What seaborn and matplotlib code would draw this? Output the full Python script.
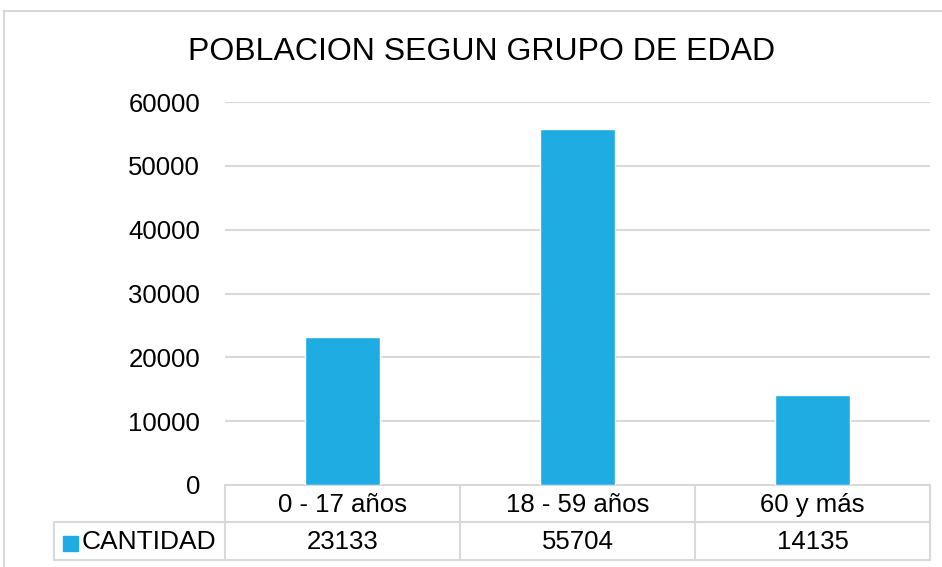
import matplotlib
matplotlib.use("Agg")
import matplotlib.pyplot as plt
import seaborn as sns
import pandas as pd
from matplotlib.lines import Line2D
from matplotlib.patches import Rectangle

categories = ["0 - 17 años", "18 - 59 años", "60 y más"]
values = [23133, 55704, 14135]
series_name = "CANTIDAD"
title = "POBLACION SEGUN GRUPO DE EDAD"
yticks = [0, 10000, 20000, 30000, 40000, 50000, 60000]

bar_color = "#1FACE3"
grid_color = "#D9D9D9"

sns.set_theme(style="white")
plt.rcParams["font.family"] = ["Liberation Sans", "DejaVu Sans"]

W, H = 942, 567
fig = plt.figure(figsize=(W / 100, H / 100), dpi=100)
ax_l, ax_r, ax_t, ax_b = 225, 930, 102, 485
ax = fig.add_axes([ax_l / W, 1 - ax_b / H, (ax_r - ax_l) / W, (ax_b - ax_t) / H])

df = pd.DataFrame({"cat": categories, "val": values})
sns.barplot(data=df, x="cat", y="val", color=bar_color, width=0.315,
            saturation=1, ax=ax, zorder=3)
ax.set_xlim(-0.5, len(categories) - 0.5)
ax.set_ylim(0, 60000)
ax.set_yticks(yticks)
ax.set_yticklabels([str(t) for t in yticks], fontsize=18.5, color="#000000")
ax.tick_params(axis="y", length=0, pad=18)
ax.set_xticks([])
ax.set_xlabel("")
ax.set_ylabel("")
for s in ax.spines.values():
    s.set_visible(False)
for t in yticks[1:]:
    ax.axhline(t, color=grid_color, lw=1.5, zorder=1)

fig.text(482 / W, 1 - 52 / H, title, fontsize=23, color="#000000", ha="center", va="center")

# Data table below the axes
axw = ax_r - ax_l
axh = ax_b - ax_t
r1 = -(522 - ax_b) / axh
r2 = -(560 - ax_b) / axh
lab_left = (54 - ax_l) / axw
tr = ax.get_xaxis_transform()
lw = 1.5
dy = -0.003

def hline(x0, x1, y, transform):
    ax.add_line(Line2D([x0, x1], [y, y], color=grid_color, lw=lw, transform=transform, clip_on=False))

def vline(x, y0, y1, transform):
    ax.add_line(Line2D([x, x], [y0, y1], color=grid_color, lw=lw, transform=transform, clip_on=False))

hline(0, 1, 0, ax.transAxes)
hline(lab_left, 1, r1, ax.transAxes)
hline(lab_left, 1, r2, ax.transAxes)
vline(lab_left, r1, r2, ax.transAxes)
for i in range(len(categories) + 1):
    vline(i - 0.5, 0, r2, tr)

for i, (c, v) in enumerate(zip(categories, values)):
    ax.text(i, r1 / 2 + dy, c, transform=tr, ha="center", va="center", fontsize=18.5, color="#000000")
    ax.text(i, (r1 + r2) / 2 + dy, str(v), transform=tr, ha="center", va="center", fontsize=18.5, color="#000000")

# legend key + label
sq = 15
ax.add_patch(Rectangle(((63 - ax_l) / axw, -(551 - ax_b) / axh), sq / axw, sq / axh,
                       transform=ax.transAxes, color=bar_color, clip_on=False))
ax.text((82 - ax_l) / axw, (r1 + r2) / 2 + dy, series_name, transform=ax.transAxes,
        ha="left", va="center", fontsize=19, color="#000000")

# outer chart frame
fig.add_artist(Rectangle((4 / W, -0.1), 1.2, 1.1 - 11 / H, transform=fig.transFigure,
                         fill=False, edgecolor=grid_color, lw=1.5))

fig.savefig("out.png", dpi=100)
